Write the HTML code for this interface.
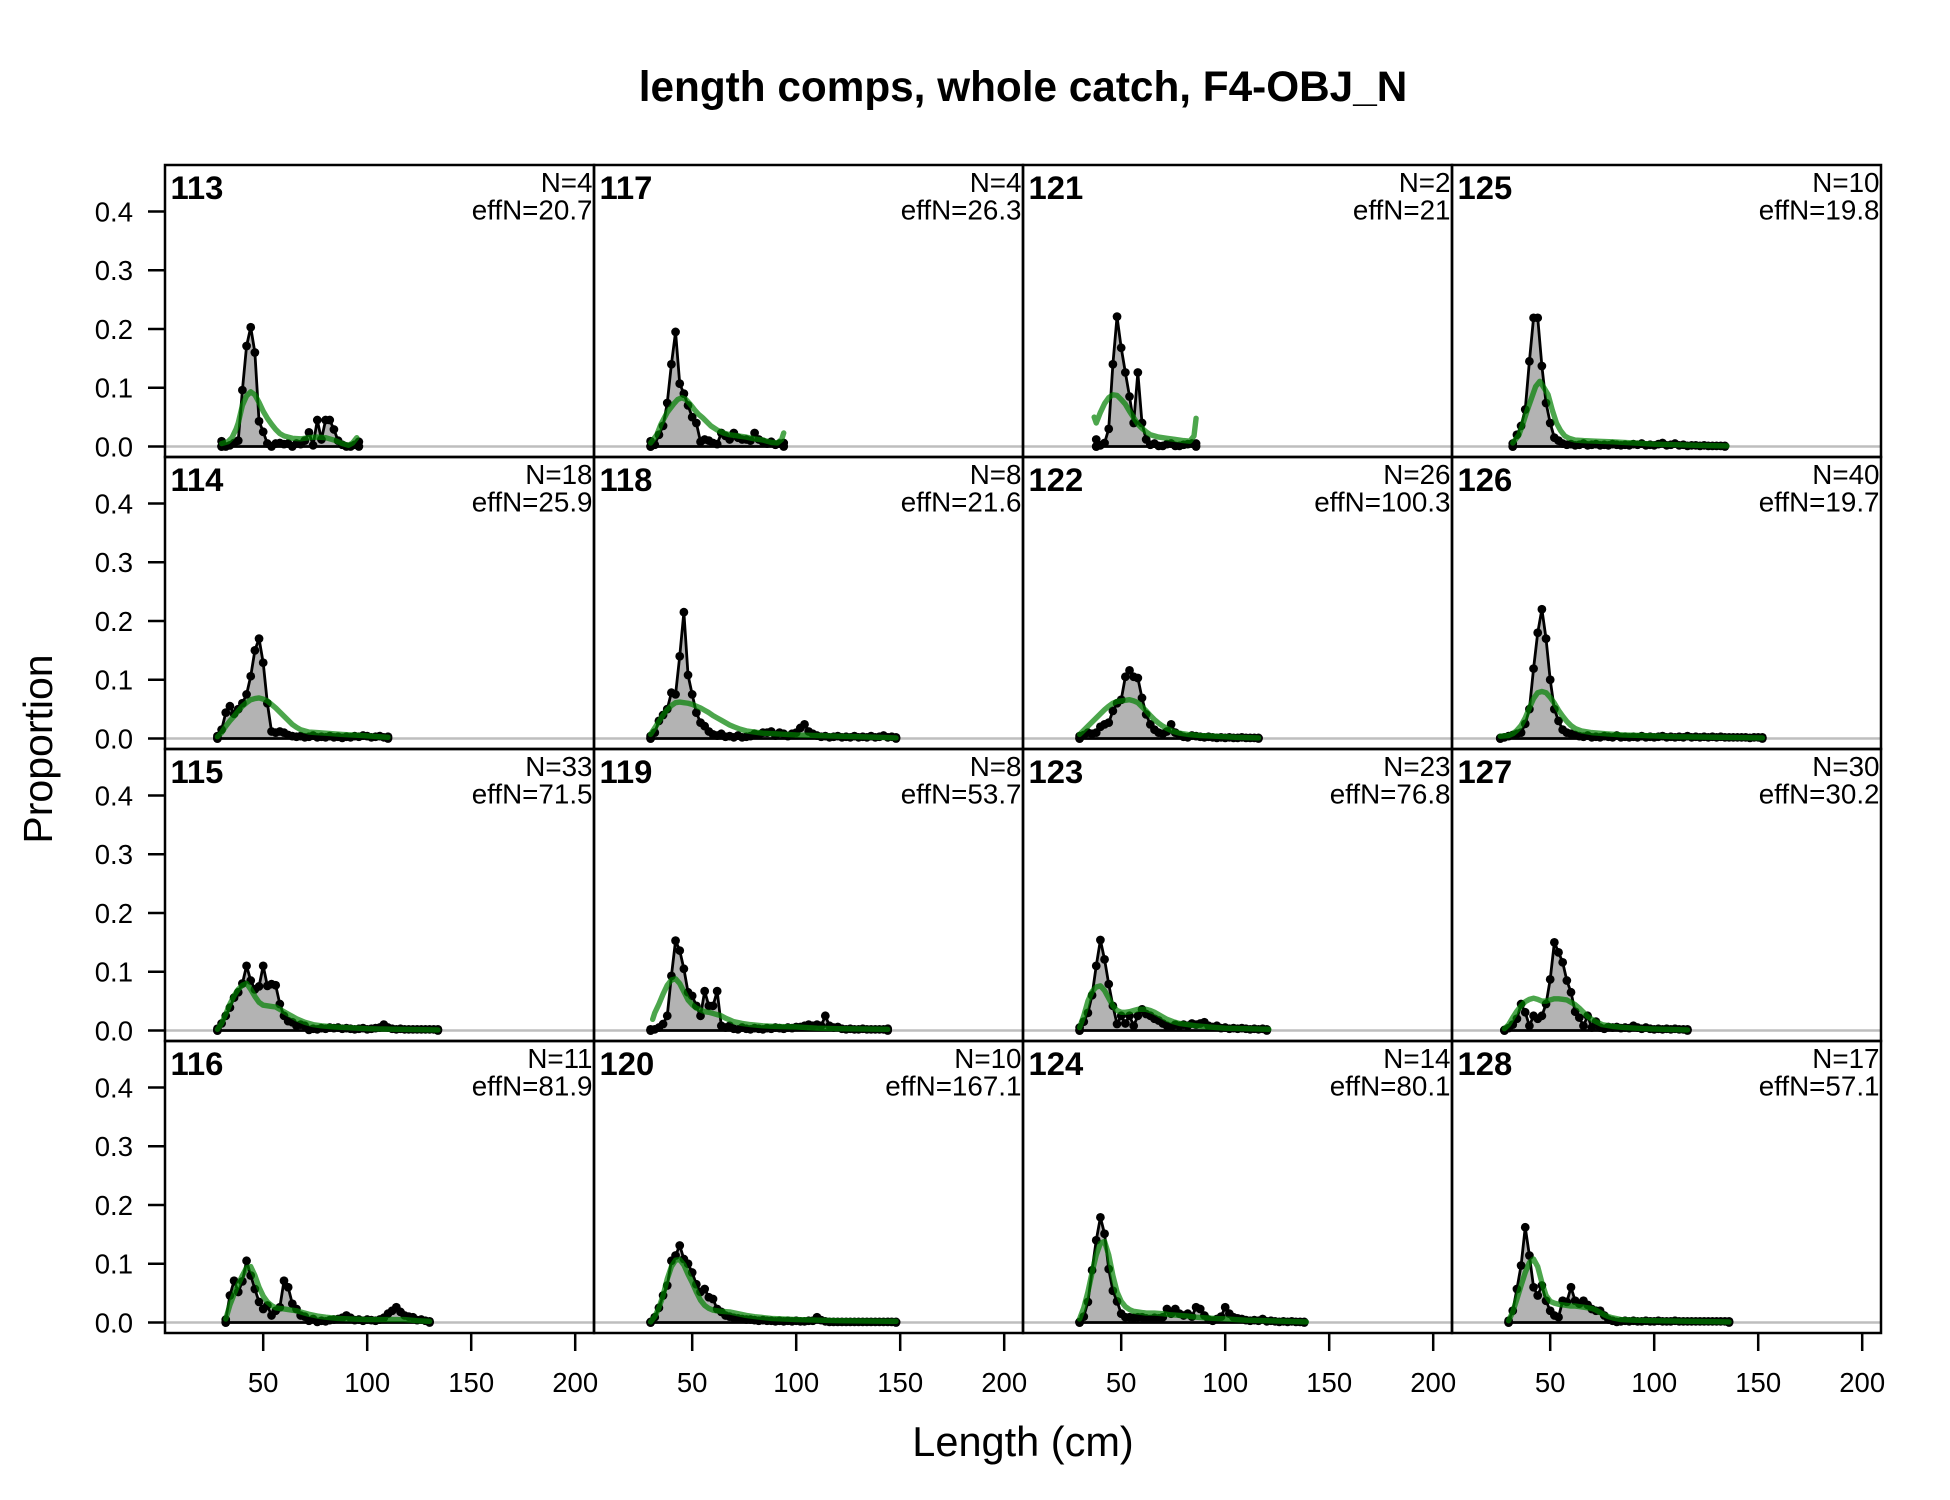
<!DOCTYPE html>
<html><head><meta charset="utf-8"><style>
html,body{margin:0;padding:0;background:#fff;}
svg{display:block;font-family:"Liberation Sans",Arial,sans-serif;}
.o{fill:#b3b3b3;stroke:#000;stroke-width:2.8;vector-effect:non-scaling-stroke;stroke-linejoin:round;marker-start:url(#m);marker-mid:url(#m);marker-end:url(#m);}
.e{fill:none;stroke:rgba(0,128,0,0.7);stroke-width:5.4;vector-effect:non-scaling-stroke;stroke-linejoin:round;stroke-linecap:round;}
.z{stroke:#bebebe;stroke-width:2.5;}
.b{fill:none;stroke:#000;stroke-width:2.5;}
.t{stroke:#000;stroke-width:2.5;fill:none;}
.tl{font-size:27.5px;}
.pl{font-size:32.8px;font-weight:bold;}
.nn{font-size:27.8px;text-anchor:end;}
</style></head><body>
<svg width="1950" height="1500" viewBox="0 0 1950 1500" xmlns="http://www.w3.org/2000/svg">
<defs>
<marker id="m" markerUnits="userSpaceOnUse" overflow="visible" markerWidth="6" markerHeight="0.02" refX="3" refY="0.01">
<ellipse cx="3" cy="0.01" rx="2.1" ry="0.00745" fill="#000"/>
</marker>
</defs>
<rect x="0" y="0" width="1950" height="1500" fill="#fff"/>

<text x="1023" y="101" font-size="42.3" font-weight="bold" text-anchor="middle">length comps, whole catch, F4-OBJ_N</text>
<text x="1023" y="1456" font-size="41.5" text-anchor="middle">Length (cm)</text>
<text transform="translate(52,749) rotate(-90)" font-size="41" text-anchor="middle">Proportion</text>

<!-- zero lines -->
<path class="z" d="M165,446.5H1881M165,738.5H1881M165,1030.5H1881M165,1322.5H1881"/>

<!-- Column 0 -->
<g transform="translate(159.2,446.5) scale(2.08,-587.6)">
<polygon class="o" points="30,0 30,0.009 32,0 34,0.002 36,0.006 38,0.01 40,0.096 42,0.171 44,0.203 46,0.16 48,0.043 50,0.025 52,0.005 54,0 56,0.005 58,0.006 60,0.004 62,0.005 64,0 66,0.005 68,0.004 70,0.01 72,0.024 74,0.002 76,0.045 78,0.012 80,0.045 82,0.045 84,0.029 86,0.01 88,0.003 90,0 92,0 94,0.003 96,0.008 96,0"/>
<polyline class="e" points="30,0.005 33,0.008 35,0.015 37,0.03 38,0.04 40,0.07 42,0.086 44,0.093 46,0.088 48,0.075 50,0.06 52,0.048 54,0.038 56,0.029 58,0.022 60,0.018 64,0.014 68,0.013 72,0.015 76,0.016 80,0.015 84,0.011 88,0.005 91,0.002 93,0.006 95,0.015"/>
</g>
<g transform="translate(159.2,738.5) scale(2.08,-587.6)">
<polygon class="o" points="28,0 28,0.004 30,0.015 32,0.044 34,0.055 36,0.042 38,0.05 40,0.06 42,0.075 44,0.106 46,0.15 48,0.17 50,0.129 52,0.06 54,0.012 56,0.01 58,0.012 60,0.01 62,0.006 64,0.004 66,0.003 68,0.004 70,0.002 72,0.003 74,0.005 76,0.002 78,0.003 80,0.002 82,0.004 84,0.002 86,0.003 88,0.001 90,0.003 92,0.002 94,0.004 96,0.003 98,0.005 100,0.004 102,0.002 104,0.003 106,0.004 108,0.002 110,0.003 110,0"/>
<polyline class="e" points="28,0.003 30,0.01 32,0.021 34,0.03 36,0.038 38,0.047 40,0.055 42,0.061 44,0.066 46,0.068 48,0.069 50,0.067 52,0.064 54,0.058 56,0.052 58,0.045 60,0.038 62,0.031 64,0.024 66,0.019 68,0.015 72,0.011 76,0.01 80,0.009 88,0.007 98,0.005 110,0.002"/>
</g>
<g transform="translate(159.2,1030.5) scale(2.08,-587.6)">
<polygon class="o" points="28,0 28,0.003 30,0.012 32,0.025 34,0.039 36,0.056 38,0.065 40,0.08 42,0.11 44,0.085 46,0.07 48,0.075 50,0.11 52,0.076 54,0.079 56,0.077 58,0.045 60,0.025 62,0.016 64,0.014 66,0.008 68,0.01 70,0.008 72,0.001 74,0.003 76,0.002 78,0.004 80,0.003 82,0.005 84,0.004 86,0.005 88,0.003 90,0.004 92,0.003 94,0.002 96,0.003 98,0.004 100,0.002 102,0.003 104,0.004 106,0.005 108,0.01 110,0.005 112,0.003 114,0.002 116,0.003 118,0.002 120,0.002 122,0.002 124,0.002 126,0.002 128,0.002 130,0.002 132,0.002 134,0.002 134,0"/>
<polyline class="e" points="28,0.002 30,0.012 32,0.028 34,0.045 36,0.059 38,0.07 40,0.077 42,0.08 44,0.07 46,0.058 48,0.048 50,0.043 52,0.042 54,0.041 56,0.04 58,0.036 60,0.032 62,0.028 64,0.024 66,0.02 68,0.017 70,0.014 74,0.01 78,0.008 84,0.006 90,0.005 100,0.003 115,0.002 134,0.001"/>
</g>
<g transform="translate(159.2,1322.5) scale(2.08,-587.6)">
<polygon class="o" points="32,0 32,0.005 34,0.046 36,0.071 38,0.052 40,0.07 42,0.105 44,0.08 46,0.057 48,0.035 50,0.023 52,0.029 54,0.012 56,0.02 58,0.026 60,0.071 62,0.06 64,0.032 66,0.023 68,0.012 70,0.01 72,0.003 74,0.006 76,0.001 78,0.003 80,0.002 82,0.004 84,0.005 86,0.006 88,0.008 90,0.012 92,0.008 94,0.004 96,0.005 98,0.003 100,0.005 102,0.004 104,0.003 106,0.005 108,0.008 110,0.015 112,0.02 114,0.026 116,0.018 118,0.012 120,0.01 122,0.009 124,0.004 126,0.005 128,0.003 130,0.002 130,0"/>
<polyline class="e" points="32,0.006 34,0.03 36,0.048 38,0.065 40,0.08 42,0.093 44,0.095 46,0.08 48,0.06 50,0.045 52,0.035 54,0.029 56,0.025 58,0.024 60,0.023 62,0.022 64,0.021 66,0.02 68,0.018 70,0.016 72,0.014 76,0.011 80,0.009 86,0.007 92,0.006 100,0.005 110,0.005 118,0.005 124,0.003 130,0.002"/>
</g>

<!-- Column 1 -->
<g transform="translate(588.2,446.5) scale(2.08,-587.6)">
<polygon class="o" points="30,0 30,0.009 32,0.003 34,0.02 36,0.035 38,0.074 40,0.14 42,0.195 44,0.107 46,0.09 48,0.07 50,0.05 52,0.04 54,0.008 56,0.012 58,0.01 60,0.006 62,0.004 64,0.023 66,0.018 68,0.012 70,0.023 72,0.015 74,0.012 76,0.012 78,0.01 80,0.023 82,0.012 84,0.008 86,0.005 88,0.008 90,0.003 92,0.005 94,0.006 94,0"/>
<polyline class="e" points="30,0.006 33,0.02 35,0.038 38,0.058 41,0.072 43,0.08 45,0.083 47,0.08 49,0.072 51,0.063 53,0.055 55,0.049 57,0.042 59,0.035 62,0.028 65,0.023 68,0.02 72,0.018 76,0.016 80,0.013 84,0.011 88,0.007 91,0.006 93,0.012 94,0.023"/>
</g>
<g transform="translate(588.2,738.5) scale(2.08,-587.6)">
<polygon class="o" points="30,0 30,0.004 32,0.01 34,0.03 36,0.04 38,0.05 40,0.078 42,0.075 44,0.14 46,0.215 48,0.108 50,0.075 52,0.044 54,0.027 56,0.021 58,0.012 60,0.007 62,0.005 64,0.008 66,0.003 68,0.004 70,0.002 72,0.005 74,0.002 76,0.003 78,0.004 80,0.008 82,0.006 84,0.01 86,0.01 88,0.012 90,0.005 92,0.01 94,0.008 96,0.004 98,0.008 100,0.01 102,0.018 104,0.024 106,0.012 108,0.008 110,0.005 112,0.003 114,0.004 116,0.002 118,0.003 120,0.004 122,0.002 124,0.003 126,0.002 128,0.004 130,0.002 132,0.003 134,0.002 136,0.004 138,0.002 140,0.003 142,0.005 144,0.002 146,0.003 148,0.002 148,0"/>
<polyline class="e" points="30,0.007 32,0.018 34,0.029 36,0.04 38,0.049 40,0.056 42,0.061 44,0.062 46,0.061 48,0.06 50,0.058 52,0.055 54,0.052 56,0.048 58,0.044 60,0.039 62,0.035 64,0.031 66,0.027 68,0.023 70,0.02 73,0.016 76,0.013 80,0.011 84,0.009 90,0.008 95,0.007 100,0.006 110,0.005 120,0.004 130,0.003 148,0.001"/>
</g>
<g transform="translate(588.2,1030.5) scale(2.08,-587.6)">
<polygon class="o" points="30,0 30,0.002 32,0.002 34,0.005 36,0.011 38,0.025 40,0.093 42,0.153 44,0.136 46,0.105 48,0.065 50,0.059 52,0.042 54,0.025 56,0.067 58,0.042 60,0.042 62,0.067 64,0.008 66,0.005 68,0.008 70,0.003 72,0.002 74,0.005 76,0.003 78,0.002 80,0.004 82,0.003 84,0.002 86,0.004 88,0.003 90,0.005 92,0.004 94,0.003 96,0.005 98,0.004 100,0.006 102,0.006 104,0.008 106,0.01 108,0.008 110,0.01 112,0.008 114,0.025 116,0.008 118,0.005 120,0.006 122,0.003 124,0.002 126,0.003 128,0.002 130,0.002 132,0.003 134,0.002 136,0.002 138,0.002 140,0.002 142,0.002 144,0.003 144,0"/>
<polyline class="e" points="31,0.019 32,0.03 34,0.045 36,0.062 38,0.077 40,0.086 42,0.088 44,0.08 46,0.066 48,0.052 50,0.044 52,0.038 54,0.035 56,0.032 58,0.031 60,0.029 62,0.027 64,0.025 66,0.021 68,0.018 70,0.015 74,0.012 78,0.01 84,0.008 90,0.007 100,0.006 110,0.004 120,0.003 144,0.002"/>
</g>
<g transform="translate(588.2,1322.5) scale(2.08,-587.6)">
<polygon class="o" points="30,0 30,0.001 32,0.009 34,0.025 36,0.046 38,0.063 40,0.105 42,0.114 44,0.131 46,0.108 48,0.1 50,0.085 52,0.065 54,0.052 56,0.057 58,0.043 60,0.04 62,0.023 64,0.018 66,0.012 68,0.01 70,0.008 72,0.007 74,0.006 76,0.005 78,0.005 80,0.004 82,0.003 84,0.004 86,0.003 88,0.003 90,0.002 92,0.003 94,0.002 96,0.003 98,0.002 100,0.003 102,0.002 104,0.002 106,0.003 108,0.003 110,0.009 112,0.004 114,0.002 116,0.001 118,0.001 120,0.001 122,0.001 124,0.001 126,0.001 128,0.001 130,0.001 132,0.001 134,0.001 136,0.001 138,0.001 140,0.001 142,0.001 144,0.001 146,0.001 148,0.001 148,0"/>
<polyline class="e" points="30,0.001 32,0.01 34,0.025 36,0.046 38,0.074 40,0.095 42,0.106 44,0.107 46,0.098 48,0.082 50,0.068 52,0.052 54,0.038 56,0.029 58,0.024 60,0.021 64,0.019 68,0.018 72,0.015 76,0.012 80,0.01 88,0.007 100,0.005 120,0.003 148,0.002"/>
</g>

<!-- Column 2 -->
<g transform="translate(1017.2,446.5) scale(2.08,-587.6)">
<polygon class="o" points="38,0 38,0.012 40,0.002 42,0.006 44,0.03 46,0.14 48,0.221 50,0.168 52,0.126 54,0.085 56,0.04 58,0.126 60,0.04 62,0.012 64,0.003 66,0.005 68,0.001 70,0.001 72,0.004 74,0.005 76,0.001 78,0.001 80,0.003 82,0.004 84,0.005 86,0.005 86,0"/>
<polyline class="e" points="37,0.05 38,0.04 40,0.058 42,0.073 44,0.083 46,0.088 48,0.087 50,0.08 52,0.072 54,0.06 56,0.049 58,0.038 60,0.031 62,0.025 64,0.02 68,0.016 72,0.014 76,0.012 80,0.01 83,0.009 85,0.018 86,0.048"/>
</g>
<g transform="translate(1017.2,738.5) scale(2.08,-587.6)">
<polygon class="o" points="30,0 30,0.004 32,0.006 34,0.01 36,0.008 38,0.01 40,0.02 42,0.024 44,0.027 46,0.047 48,0.06 50,0.066 52,0.105 54,0.116 56,0.105 58,0.103 60,0.069 62,0.041 64,0.024 66,0.015 68,0.01 70,0.008 72,0.012 74,0.024 76,0.01 78,0.006 80,0.003 82,0.002 84,0.005 86,0.004 88,0.003 90,0.002 92,0.003 94,0.002 96,0.001 98,0.002 100,0.001 102,0.002 104,0.001 106,0.001 108,0.002 110,0.001 112,0.001 114,0.001 116,0.001 116,0"/>
<polyline class="e" points="30,0.007 32,0.014 34,0.021 36,0.028 38,0.035 40,0.042 42,0.049 44,0.055 46,0.06 48,0.063 50,0.064 52,0.065 54,0.066 56,0.064 58,0.061 60,0.054 62,0.047 64,0.039 66,0.032 68,0.026 70,0.021 72,0.017 75,0.012 78,0.009 82,0.007 88,0.005 95,0.004 105,0.002 116,0.001"/>
</g>
<g transform="translate(1017.2,1030.5) scale(2.08,-587.6)">
<polygon class="o" points="30,0 30,0.005 32,0.015 34,0.03 36,0.06 38,0.11 40,0.154 42,0.121 44,0.079 46,0.042 48,0.011 50,0.025 52,0.012 54,0.025 56,0.008 58,0.025 60,0.036 62,0.028 64,0.025 66,0.02 68,0.017 70,0.012 72,0.008 74,0.006 76,0.01 78,0.008 80,0.01 82,0.008 84,0.012 86,0.01 88,0.012 90,0.014 92,0.008 94,0.006 96,0.008 98,0.004 100,0.005 102,0.003 104,0.004 106,0.003 108,0.004 110,0.003 112,0.002 114,0.003 116,0.002 118,0.003 120,0.002 120,0"/>
<polyline class="e" points="30,0.005 32,0.025 34,0.05 36,0.066 38,0.074 40,0.076 42,0.068 44,0.055 46,0.042 48,0.034 50,0.031 52,0.031 54,0.032 56,0.034 58,0.036 60,0.036 62,0.036 64,0.034 66,0.031 68,0.027 70,0.023 72,0.019 75,0.015 78,0.012 82,0.01 86,0.008 92,0.006 100,0.004 110,0.003 121,0.002"/>
</g>
<g transform="translate(1017.2,1322.5) scale(2.08,-587.6)">
<polygon class="o" points="30,0 30,0.001 32,0.01 34,0.035 36,0.089 38,0.14 40,0.179 42,0.151 44,0.091 46,0.054 48,0.036 50,0.015 52,0.009 54,0.009 56,0.008 58,0.009 60,0.009 62,0.007 64,0.006 66,0.008 68,0.007 70,0.009 72,0.023 74,0.015 76,0.023 78,0.015 80,0.012 82,0.015 84,0.01 86,0.026 88,0.023 90,0.012 92,0.005 94,0.003 96,0.006 98,0.01 100,0.026 102,0.015 104,0.009 106,0.007 108,0.006 110,0.004 112,0.003 114,0.004 116,0.003 118,0.006 120,0.002 122,0.003 124,0.002 126,0.001 128,0.002 130,0.001 132,0.002 134,0.001 136,0.001 138,0.001 138,0"/>
<polyline class="e" points="30,0.006 32,0.025 34,0.052 36,0.085 38,0.115 40,0.135 42,0.138 44,0.115 46,0.08 48,0.052 50,0.036 52,0.027 54,0.022 56,0.019 58,0.018 62,0.016 66,0.016 70,0.015 74,0.013 78,0.012 82,0.011 86,0.009 90,0.008 95,0.007 100,0.006 110,0.004 120,0.003 139,0.001"/>
</g>

<!-- Column 3 -->
<g transform="translate(1446.2,446.5) scale(2.08,-587.6)">
<polygon class="o" points="32,0 32,0.005 34,0.02 36,0.035 38,0.063 40,0.145 42,0.219 44,0.219 46,0.137 48,0.074 50,0.04 52,0.015 54,0.01 56,0.005 58,0.003 60,0.004 62,0.002 64,0.003 66,0.005 68,0.002 70,0.003 72,0.004 74,0.002 76,0.003 78,0.002 80,0.004 82,0.003 84,0.002 86,0.003 88,0.002 90,0.004 92,0.003 94,0.005 96,0.002 98,0.003 100,0.002 102,0.004 104,0.006 106,0.002 108,0.003 110,0.005 112,0.002 114,0.003 116,0.001 118,0.002 120,0.002 122,0.001 124,0.002 126,0.001 128,0.001 130,0.001 132,0.001 134,0.001 134,0"/>
<polyline class="e" points="32,0.006 35,0.02 37,0.04 39,0.062 41,0.082 43,0.102 45,0.111 47,0.1 49,0.088 51,0.062 53,0.04 55,0.027 57,0.018 59,0.014 62,0.011 66,0.01 72,0.009 80,0.008 90,0.006 100,0.004 110,0.003 120,0.002 135,0.001"/>
</g>
<g transform="translate(1446.2,738.5) scale(2.08,-587.6)">
<polygon class="o" points="26,0 26,0.001 28,0.002 30,0.004 32,0.006 34,0.008 36,0.01 38,0.025 40,0.05 42,0.119 44,0.18 46,0.22 48,0.17 50,0.1 52,0.05 54,0.03 56,0.015 58,0.01 60,0.008 62,0.006 64,0.004 66,0.003 68,0.005 70,0.002 72,0.003 74,0.002 76,0.004 78,0.003 80,0.002 82,0.005 84,0.002 86,0.003 88,0.002 90,0.003 92,0.002 94,0.004 96,0.002 98,0.003 100,0.002 102,0.003 104,0.004 106,0.002 108,0.003 110,0.002 112,0.003 114,0.002 116,0.004 118,0.002 120,0.003 122,0.002 124,0.003 126,0.002 128,0.003 130,0.002 132,0.003 134,0.002 136,0.002 138,0.002 140,0.002 142,0.002 144,0.002 146,0.001 148,0.002 150,0.002 152,0.002 152,0"/>
<polyline class="e" points="26,0.004 30,0.005 32,0.008 34,0.014 36,0.022 38,0.035 40,0.052 42,0.068 44,0.078 46,0.08 48,0.078 50,0.07 52,0.06 54,0.048 56,0.038 58,0.029 60,0.022 62,0.017 65,0.013 70,0.01 77,0.008 85,0.006 95,0.005 110,0.003 130,0.002 152,0.001"/>
</g>
<g transform="translate(1446.2,1030.5) scale(2.08,-587.6)">
<polygon class="o" points="28,0 28,0.001 30,0.004 32,0.01 34,0.02 36,0.045 38,0.031 40,0.008 42,0.025 44,0.02 46,0.025 48,0.045 50,0.087 52,0.15 54,0.133 56,0.116 58,0.085 60,0.065 62,0.032 64,0.022 66,0.008 68,0.025 70,0.005 72,0.015 74,0.005 76,0.003 78,0.006 80,0.005 82,0.006 84,0.004 86,0.005 88,0.004 90,0.008 92,0.005 94,0.003 96,0.005 98,0.003 100,0.002 102,0.003 104,0.002 106,0.003 108,0.002 110,0.003 112,0.002 114,0.002 116,0.002 116,0"/>
<polyline class="e" points="28,0.003 30,0.01 32,0.022 34,0.033 36,0.042 38,0.049 40,0.053 42,0.055 44,0.053 46,0.05 48,0.05 50,0.052 52,0.054 54,0.054 56,0.053 58,0.052 60,0.048 62,0.044 64,0.038 66,0.031 68,0.024 70,0.019 72,0.015 75,0.01 80,0.007 86,0.005 95,0.003 105,0.002 116,0.001"/>
</g>
<g transform="translate(1446.2,1322.5) scale(2.08,-587.6)">
<polygon class="o" points="30,0 30,0.003 32,0.02 34,0.057 36,0.097 38,0.162 40,0.114 42,0.06 44,0.046 46,0.063 48,0.037 50,0.02 52,0.012 54,0.009 56,0.037 58,0.035 60,0.06 62,0.037 64,0.032 66,0.037 68,0.03 70,0.023 72,0.02 74,0.02 76,0.012 78,0.005 80,0.003 82,0.001 84,0.002 86,0.003 88,0.002 90,0.003 92,0.002 94,0.002 96,0.003 98,0.002 100,0.002 102,0.003 104,0.002 106,0.002 108,0.002 110,0.003 112,0.002 114,0.002 116,0.002 118,0.002 120,0.002 122,0.002 124,0.002 126,0.002 128,0.002 130,0.002 132,0.002 134,0.002 136,0.002 136,0"/>
<polyline class="e" points="30,0.003 32,0.018 34,0.04 36,0.063 38,0.085 40,0.102 42,0.108 44,0.095 46,0.068 48,0.046 50,0.036 52,0.033 54,0.031 56,0.03 58,0.029 60,0.028 62,0.028 64,0.027 66,0.026 68,0.025 70,0.024 72,0.021 74,0.017 76,0.013 78,0.01 80,0.008 84,0.005 90,0.004 100,0.003 136,0.001"/>
</g>

<!-- Panel borders -->
<g class="b">
<rect x="165" y="165" width="429" height="292"/><rect x="165" y="457" width="429" height="292"/><rect x="165" y="749" width="429" height="292"/><rect x="165" y="1041" width="429" height="292"/>
<rect x="594" y="165" width="429" height="292"/><rect x="594" y="457" width="429" height="292"/><rect x="594" y="749" width="429" height="292"/><rect x="594" y="1041" width="429" height="292"/>
<rect x="1023" y="165" width="429" height="292"/><rect x="1023" y="457" width="429" height="292"/><rect x="1023" y="749" width="429" height="292"/><rect x="1023" y="1041" width="429" height="292"/>
<rect x="1452" y="165" width="429" height="292"/><rect x="1452" y="457" width="429" height="292"/><rect x="1452" y="749" width="429" height="292"/><rect x="1452" y="1041" width="429" height="292"/>
</g>

<!-- Y ticks -->
<path class="t" d="M148,446.5H165M148,387.74H165M148,328.98H165M148,270.22H165M148,211.46H165
M148,738.5H165M148,679.74H165M148,620.98H165M148,562.22H165M148,503.46H165
M148,1030.5H165M148,971.74H165M148,912.98H165M148,854.22H165M148,795.46H165
M148,1322.5H165M148,1263.74H165M148,1204.98H165M148,1146.22H165M148,1087.46H165"/>
<g class="tl" text-anchor="end">
<text x="133" y="456.5">0.0</text><text x="133" y="397.7">0.1</text><text x="133" y="339">0.2</text><text x="133" y="280.2">0.3</text><text x="133" y="221.5">0.4</text>
<text x="133" y="748.5">0.0</text><text x="133" y="689.7">0.1</text><text x="133" y="631">0.2</text><text x="133" y="572.2">0.3</text><text x="133" y="513.5">0.4</text>
<text x="133" y="1040.5">0.0</text><text x="133" y="981.7">0.1</text><text x="133" y="923">0.2</text><text x="133" y="864.2">0.3</text><text x="133" y="805.5">0.4</text>
<text x="133" y="1332.5">0.0</text><text x="133" y="1273.7">0.1</text><text x="133" y="1215">0.2</text><text x="133" y="1156.2">0.3</text><text x="133" y="1097.5">0.4</text>
</g>

<!-- X ticks -->
<path class="t" d="M263.2,1333V1351M367.2,1333V1351M471.2,1333V1351M575.2,1333V1351
M692.2,1333V1351M796.2,1333V1351M900.2,1333V1351M1004.2,1333V1351
M1121.2,1333V1351M1225.2,1333V1351M1329.2,1333V1351M1433.2,1333V1351
M1550.2,1333V1351M1654.2,1333V1351M1758.2,1333V1351M1862.2,1333V1351"/>
<g class="tl" text-anchor="middle">
<text x="263.2" y="1392">50</text><text x="367.2" y="1392">100</text><text x="471.2" y="1392">150</text><text x="575.2" y="1392">200</text>
<text x="692.2" y="1392">50</text><text x="796.2" y="1392">100</text><text x="900.2" y="1392">150</text><text x="1004.2" y="1392">200</text>
<text x="1121.2" y="1392">50</text><text x="1225.2" y="1392">100</text><text x="1329.2" y="1392">150</text><text x="1433.2" y="1392">200</text>
<text x="1550.2" y="1392">50</text><text x="1654.2" y="1392">100</text><text x="1758.2" y="1392">150</text><text x="1862.2" y="1392">200</text>
</g>

<!-- Panel labels -->
<g class="pl">
<text x="170.5" y="199">113</text><text x="170.5" y="491">114</text><text x="170.5" y="783">115</text><text x="170.5" y="1075">116</text>
<text x="599.5" y="199">117</text><text x="599.5" y="491">118</text><text x="599.5" y="783">119</text><text x="599.5" y="1075">120</text>
<text x="1028.5" y="199">121</text><text x="1028.5" y="491">122</text><text x="1028.5" y="783">123</text><text x="1028.5" y="1075">124</text>
<text x="1457.5" y="199">125</text><text x="1457.5" y="491">126</text><text x="1457.5" y="783">127</text><text x="1457.5" y="1075">128</text>
</g>
<g class="nn">
<text x="592.5" y="192">N=4</text><text x="592.5" y="219.5">effN=20.7</text>
<text x="592.5" y="484">N=18</text><text x="592.5" y="511.5">effN=25.9</text>
<text x="592.5" y="776">N=33</text><text x="592.5" y="803.5">effN=71.5</text>
<text x="592.5" y="1068">N=11</text><text x="592.5" y="1095.5">effN=81.9</text>
<text x="1021.5" y="192">N=4</text><text x="1021.5" y="219.5">effN=26.3</text>
<text x="1021.5" y="484">N=8</text><text x="1021.5" y="511.5">effN=21.6</text>
<text x="1021.5" y="776">N=8</text><text x="1021.5" y="803.5">effN=53.7</text>
<text x="1021.5" y="1068">N=10</text><text x="1021.5" y="1095.5">effN=167.1</text>
<text x="1450.5" y="192">N=2</text><text x="1450.5" y="219.5">effN=21</text>
<text x="1450.5" y="484">N=26</text><text x="1450.5" y="511.5">effN=100.3</text>
<text x="1450.5" y="776">N=23</text><text x="1450.5" y="803.5">effN=76.8</text>
<text x="1450.5" y="1068">N=14</text><text x="1450.5" y="1095.5">effN=80.1</text>
<text x="1879.5" y="192">N=10</text><text x="1879.5" y="219.5">effN=19.8</text>
<text x="1879.5" y="484">N=40</text><text x="1879.5" y="511.5">effN=19.7</text>
<text x="1879.5" y="776">N=30</text><text x="1879.5" y="803.5">effN=30.2</text>
<text x="1879.5" y="1068">N=17</text><text x="1879.5" y="1095.5">effN=57.1</text>
</g>
</svg>
</body></html>
